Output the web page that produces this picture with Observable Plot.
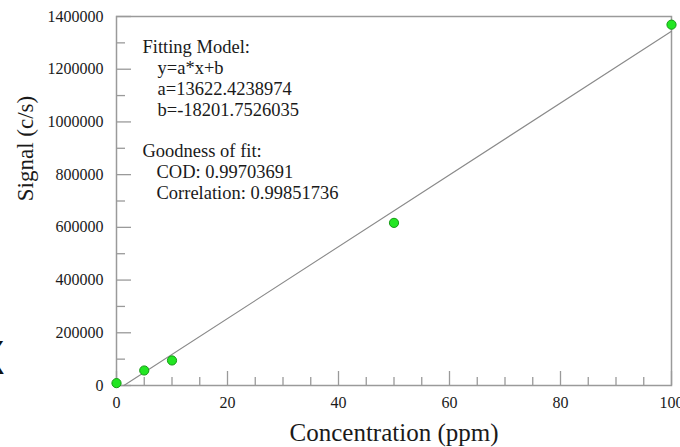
<!DOCTYPE html>
<html><head><meta charset="utf-8">
<script src="https://cdn.jsdelivr.net/npm/d3@7"></script>
<script src="https://cdn.jsdelivr.net/npm/@observablehq/plot@0.6"></script>
<style>
body{margin:0;background:#fff;}
#chart{position:relative;width:680px;height:447px;overflow:hidden;background:#fff}
#art{position:absolute;left:-25px;top:337px;font:44px/1 "DejaVu Sans",sans-serif;color:#111}
#chart svg text{font-family:"Liberation Serif","Times New Roman",serif;}
</style>
</head><body><div id="chart"><div id="art">X</div></div>
<script>
const concentration = [0, 5, 10, 50, 100];
const signal = [9000, 57000, 95000, 617000, 1369000];
const xMajorTicks = [0, 20, 40, 60, 80, 100];
const xMinorTicks = [5, 10, 15, 25, 30, 35, 45, 50, 55, 65, 70, 75, 85, 90, 95];
const yMajorTicks = [0, 200000, 400000, 600000, 800000, 1000000, 1200000, 1400000];
const yMinorTicks = [100000, 300000, 500000, 700000, 900000, 1100000, 1300000];
const fitA = "13622.4238974";
const fitB = "-18201.7526035";
const cod = "0.99703691";
const correlation = "0.99851736";
const xLabel = "Concentration (ppm)";
const yLabel = "Signal (c/s)";

const W = 680, H = 447, mL = 116, mR = 9, mT = 16, mB = 62;
const plotW = W - mL - mR, plotH = H - mT - mB;
const a = +fitA, b = +fitB;
const points = concentration.map((x, i) => ({x, y: signal[i]}));
const fitXs = [-b / a, d3.max(concentration)];
const fit = fitXs.map(x => ({x, y: a * x + b}));

const serif = "'Liberation Serif', 'Times New Roman', serif";
const axisColor = "#9a9a9a";
const txt = "#1a1a1a";
const fs = 18.5, lh = 20.8;
const base0 = 51;
function block(lines, dx, baseline) {
  return Plot.text([lines.join("\n")], {
    text: d => d, frameAnchor: "top-left", textAnchor: "start", lineAnchor: "top",
    dx, dy: baseline - mT - 0.71 * fs, fontSize: fs, lineHeight: lh / fs, fill: txt, fontFamily: serif
  });
}

const chart = Plot.plot({
  width: W, height: H,
  marginLeft: mL, marginRight: mR, marginTop: mT, marginBottom: mB,
  style: {fontFamily: serif, fontSize: "16px", background: "#fff", color: txt},
  x: {domain: [0, 100], axis: null},
  y: {domain: [0, 1400000], axis: null},
  marks: [
    Plot.frame({stroke: axisColor, strokeWidth: 1.5}),
    Plot.tickX(xMajorTicks, {x: d => d, insetTop: plotH - 14, stroke: axisColor, strokeWidth: 1.3}),
    Plot.tickX(xMinorTicks, {x: d => d, insetTop: plotH - 8, stroke: axisColor, strokeWidth: 1.3}),
    Plot.tickY(yMajorTicks, {y: d => d, insetRight: plotW - 15, stroke: axisColor, strokeWidth: 1.3}),
    Plot.tickY(yMinorTicks, {y: d => d, insetRight: plotW - 9, stroke: axisColor, strokeWidth: 1.3}),
    Plot.text(xMajorTicks, {x: d => d, text: d => String(d), frameAnchor: "bottom", dy: 17, lineAnchor: "middle", textAnchor: "middle", fontSize: 16, fontFamily: serif, fill: txt}),
    Plot.text(yMajorTicks, {y: d => d, text: d => String(d), frameAnchor: "left", dx: -13, lineAnchor: "middle", textAnchor: "end", fontSize: 16, fontFamily: serif, fill: txt}),
    Plot.line(fit, {x: "x", y: "y", stroke: "#8a8a8a", strokeWidth: 1.1}),
    Plot.dot(points, {x: "x", y: "y", r: 4.6, fill: "#22e622", stroke: "#169a16", strokeWidth: 1}),
    block(["Fitting Model:"], 142 - mL, base0),
    block(["y=a*x+b", "a=" + fitA, "b=" + fitB], 157 - mL, base0 + lh),
    block(["Goodness of fit:"], 142 - mL, base0 + 5 * lh),
    block(["COD: " + cod, "Correlation: " + correlation], 156 - mL, base0 + 6 * lh),
    Plot.text([yLabel], {text: d => d, frameAnchor: "left", rotate: -90, dx: 25 - mL, dy: 148 - (mT + plotH / 2), fontSize: 23, fontFamily: serif, textAnchor: "middle", lineAnchor: "middle", fill: txt}),
    Plot.text([xLabel], {text: d => d, frameAnchor: "bottom", dy: 440 - 0.32 * 25 - (H - mB), fontSize: 25, fontFamily: serif, textAnchor: "middle", lineAnchor: "middle", fill: txt})
  ]
});
document.getElementById("chart").appendChild(chart);
</script>
</body></html>
